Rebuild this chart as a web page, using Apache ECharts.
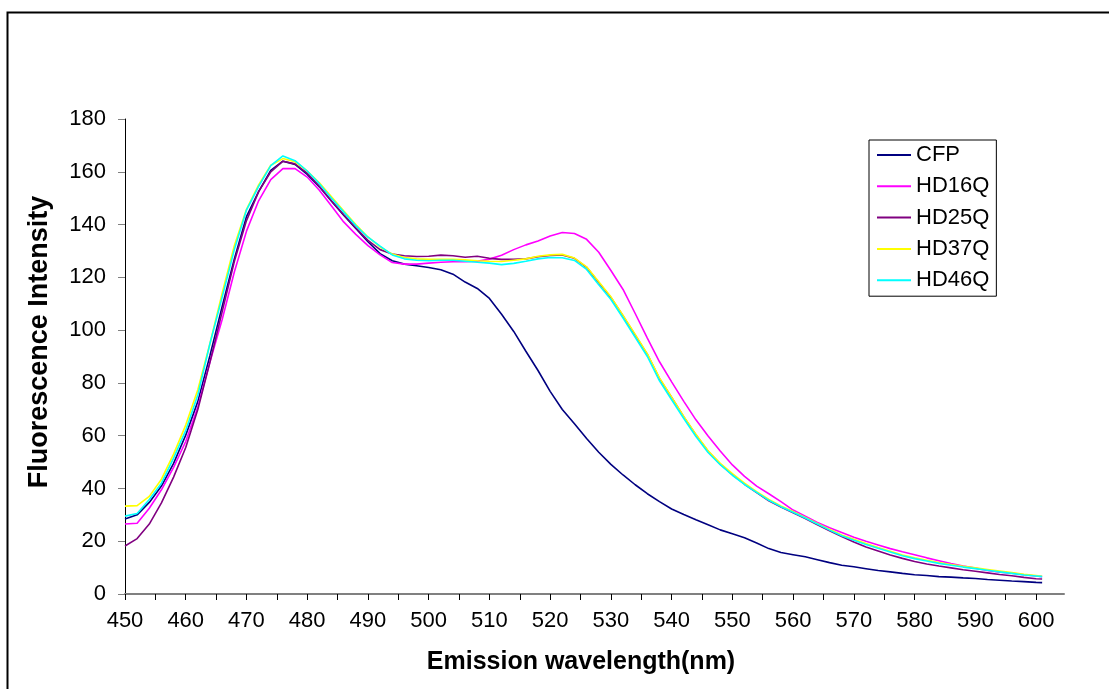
<!DOCTYPE html>
<html>
<head>
<meta charset="utf-8">
<title>Emission spectra</title>
<script src="https://cdn.jsdelivr.net/npm/echarts@6.0.0/dist/echarts.min.js"></script>
<style>
  html, body { margin: 0; padding: 0; background: #fff; }
  #mains { width: 1109px; height: 689px; }
</style>
</head>
<body>
<div id="mains"></div>
<script>
// wavelength (nm), every 2 nm, last point at 601
var wavelength = [];
for (var w = 450; w <= 600; w += 2) wavelength.push(w);
wavelength.push(601);

var seriesNames = ['CFP', 'HD16Q', 'HD25Q', 'HD37Q', 'HD46Q'];
var seriesColors = ['#000080', '#FF00FF', '#800080', '#FFFF00', '#00FFFF'];

var cfp = [
  28.4, 30, 34.7, 40.9, 49.5, 60.2, 73, 90.5, 109, 127,
  143, 152.5, 160.5, 164, 162.8, 159, 154.3, 148.8, 143.5, 138.5,
  133.5, 129, 126.3, 125, 124.4, 123.7, 122.9, 121.2, 118.2, 115.8,
  112, 106, 99.5, 92, 84.7, 76.8, 69.9, 64.5, 58.9, 53.7,
  49.1, 45.1, 41.4, 38, 35, 32.2, 30.1, 28.1, 26.2, 24.3,
  22.8, 21.3, 19.3, 17.2, 15.7, 14.9, 14.1, 13, 11.9, 10.9,
  10.3, 9.6, 8.9, 8.4, 7.8, 7.3, 7.0, 6.6, 6.4, 6.1,
  5.9, 5.5, 5.2, 4.9, 4.7, 4.4, 4.3
];
var hd16q = [
  26.5, 26.8, 32.5, 39.5, 48, 57.8, 71, 88, 104, 122,
  137.5, 149, 157, 161.2, 161.2, 158, 153, 147, 141, 136.3,
  132, 128.5, 125.6, 125, 125, 125.4, 125.7, 125.9, 125.9, 126.1,
  126.9, 128.4, 130.5, 132.3, 133.8, 135.7, 137, 136.6, 134.4, 129.5,
  122.6, 115.4, 106.3, 97, 88, 80.4, 73, 66, 59.9, 54.2,
  48.9, 44.6, 40.9, 38, 35, 31.8, 29.5, 27.1, 25.1, 23.3,
  21.5, 20, 18.6, 17.2, 16, 14.9, 13.7, 12.6, 11.5, 10.6,
  9.8, 8.9, 8.3, 7.9, 7.3, 6.8, 6.6
];
var hd25q = [
  18.2, 21, 26.5, 34.5, 44.3, 55.5, 70, 88, 107, 126,
  141.5, 152.5, 160, 164, 163, 159.5, 154.5, 149, 143.8, 138.8,
  134, 130.5, 128.8, 128.2, 127.9, 128, 128.4, 128.2, 127.6, 128,
  127.2, 126.8, 126.8, 127, 127.8, 128.3, 128.5, 127.2, 123.8, 118,
  112.4, 105.4, 98.1, 90.8, 81.6, 74.5, 67.1, 60.3, 54.1, 49.2,
  45.2, 41.6, 38.4, 35.3, 33, 30.8, 28.6, 26.2, 24, 21.8,
  19.7, 17.8, 16.3, 14.8, 13.5, 12.3, 11.4, 10.6, 9.9, 9.2,
  8.6, 8, 7.4, 6.9, 6.3, 5.8, 5.7
];
var hd37q = [
  33.3, 33.5, 37, 43.5, 53, 64, 77.5, 95, 114, 132,
  145.8, 155, 162.5, 165, 163.8, 160.3, 155.8, 150.5, 145.2, 140,
  135.3, 131.5, 128.8, 127.5, 127, 126.8, 126.8, 126.8, 126.6, 126.3,
  126.1, 126, 126.5, 127, 128, 128.5, 128.7, 127.3, 124, 118.3,
  112.6, 105.6, 98.4, 91, 81.9, 74.6, 67.3, 60.5, 54.3, 49.5,
  45.6, 42, 38.8, 35.8, 33.4, 31.3, 29, 26.7, 24.5, 22.4,
  20.7, 19.1, 17.6, 16.2, 14.8, 13.7, 12.8, 11.9, 11.2, 10.5,
  9.9, 9.3, 8.7, 8.1, 7.5, 7, 6.7
];
var hd46q = [
  29.5, 30.5, 35.8, 42, 51.5, 62, 75.5, 95, 112.5, 130.5,
  145.5, 154.5, 162.3, 166, 164.2, 160.3, 155.5, 150, 144.8, 139.6,
  135.2, 131.8, 128.5, 127, 126.5, 126.3, 126.5, 126.5, 126.1, 125.7,
  125.4, 124.8, 125.3, 126.1, 127, 127.5, 127.4, 126.4, 123, 117.2,
  111.6, 104.6, 97.3, 90, 80.8, 73.6, 66.5, 59.7, 53.6, 49,
  45, 41.5, 38.5, 35.5, 33.1, 31, 28.8, 26.5, 24.2, 22.1,
  20.4, 18.8, 17.3, 15.9, 14.5, 13.4, 12.5, 11.6, 10.9, 10.2,
  9.6, 9, 8.4, 7.8, 7.2, 6.8, 6.6
];

var xLabels = [450, 460, 470, 480, 490, 500, 510, 520, 530, 540, 550, 560, 570, 580, 590, 600];
var xTicks = [];
for (var t = 450; t <= 600; t += 5) xTicks.push(t);

var allValues = [cfp, hd16q, hd25q, hd37q, hd46q];
var font = 'Liberation Sans, Arial, sans-serif';

function pairs(values) {
  return wavelength.map(function (x, i) { return [x, values[i]]; });
}

var myChart = echarts.init(document.getElementById('mains'));

myChart.setOption({
  backgroundColor: '#fff',
  animation: false,
  grid: { left: 125, right: 45, top: 119, bottom: 95 },
  legend: {
    orient: 'vertical',
    left: 869,
    top: 140,
    icon: 'rect',
    itemWidth: 34,
    itemHeight: 2,
    itemGap: 9.3,
    padding: [4, 7, 5, 8],
    borderColor: '#000',
    borderWidth: 1,
    textStyle: { fontFamily: font, fontSize: 22, lineHeight: 22, color: '#000' },
    data: seriesNames
  },
  xAxis: {
    type: 'value',
    min: 450,
    max: 604.6,
    axisLine: { lineStyle: { color: '#808080', width: 2 } },
    axisTick: { customValues: xTicks, length: 6, lineStyle: { color: '#000' } },
    axisLabel: { customValues: xLabels, margin: 16, fontFamily: font, fontSize: 22, color: '#000' },
    splitLine: { show: false }
  },
  yAxis: {
    type: 'value',
    min: 0,
    max: 180,
    interval: 20,
    axisLine: { show: true, lineStyle: { color: '#000', width: 1 } },
    axisTick: { show: true, length: 7, lineStyle: { color: '#808080' } },
    axisLabel: { margin: 19, fontFamily: font, fontSize: 22, color: '#000' },
    splitLine: { show: false }
  },
  graphic: [
    {
      type: 'rect',
      shape: { x: 7.5, y: 12.5, width: 1200, height: 1000 },
      style: { fill: 'none', stroke: '#000', lineWidth: 2 },
      silent: true
    },
    {
      type: 'text',
      x: 40,
      y: 342,
      rotation: Math.PI / 2,
      style: {
        text: 'Fluorescence Intensity',
        font: 'bold 27px ' + font,
        fill: '#000',
        align: 'center',
        verticalAlign: 'middle'
      }
    },
    {
      type: 'text',
      x: 581,
      y: 662,
      style: {
        text: 'Emission wavelength(nm)',
        font: 'bold 25px ' + font,
        fill: '#000',
        align: 'center',
        verticalAlign: 'middle'
      }
    }
  ],
  series: seriesNames.map(function (name, i) {
    return {
      name: name,
      type: 'line',
      showSymbol: false,
      data: pairs(allValues[i]),
      itemStyle: { color: seriesColors[i] },
      lineStyle: { color: seriesColors[i], width: 1.6 },
      z: 2 + i
    };
  })
});
</script>
</body>
</html>
